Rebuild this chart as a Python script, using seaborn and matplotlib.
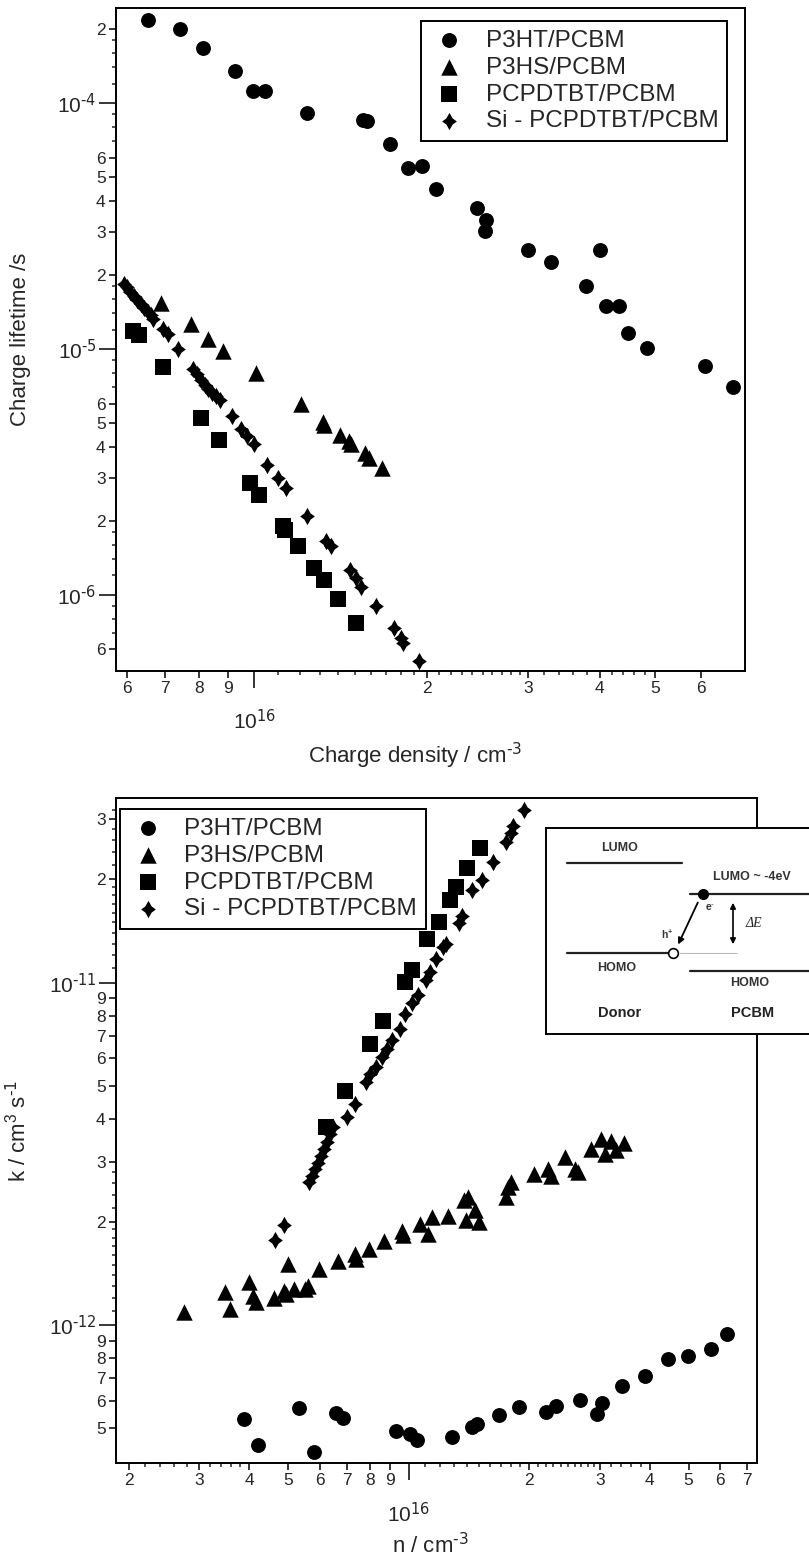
import numpy as np
import pandas as pd
import seaborn as sns
import matplotlib.pyplot as plt
from matplotlib.path import Path
from matplotlib.ticker import FixedLocator, FixedFormatter, NullLocator

sns.set_style('ticks')
plt.rcParams['font.family'] = ['Liberation Sans', 'DejaVu Sans']
plt.rcParams['mathtext.default'] = 'regular'
plt.rcParams['axes.edgecolor'] = 'black'
plt.rcParams['axes.linewidth'] = 1.4

labels = ['P3HT/PCBM', 'P3HS/PCBM', 'PCPDTBT/PCBM', 'Si - PCPDTBT/PCBM']

# ---- top panel: charge lifetime vs charge density (n in 1e16 cm^-3)
p3ht_top_n = [0.652, 0.742, 0.815, 0.926, 0.996, 1.044, 1.235, 1.55, 1.575, 1.727, 1.852, 1.963,
              2.072, 2.445, 2.537, 2.521, 3.006, 3.286, 3.999, 3.782, 4.10, 4.318, 4.48, 4.84, 6.11, 6.83]
p3ht_top_tau = [2.19e-4, 2.0e-4, 1.67e-4, 1.35e-4, 1.12e-4, 1.12e-4, 9.1e-5, 8.55e-5, 8.45e-5, 6.83e-5,
                5.43e-5, 5.57e-5, 4.49e-5, 3.76e-5, 3.34e-5, 3.02e-5, 2.52e-5, 2.26e-5, 2.54e-5, 1.81e-5,
                1.49e-5, 1.49e-5, 1.16e-5, 1.01e-5, 8.5e-6, 7.0e-6]

p3hs_top_n = [0.689, 0.775, 0.832, 0.882, 1.006, 1.205, 1.316, 1.325, 1.413, 1.463, 1.475, 1.56, 1.583, 1.667]
p3hs_top_tau = [1.54e-5, 1.26e-5, 1.10e-5, 9.84e-6, 7.98e-6, 5.96e-6, 5.04e-6, 4.9e-6, 4.46e-6, 4.23e-6,
                4.1e-6, 3.76e-6, 3.6e-6, 3.29e-6]

pcpd_top_n = [0.615, 0.63, 0.693, 0.808, 0.869, 0.984, 1.021, 1.12, 1.13, 1.192, 1.271, 1.322, 1.401, 1.503]
pcpd_top_tau = [1.18e-5, 1.14e-5, 8.42e-6, 5.23e-6, 4.25e-6, 2.86e-6, 2.54e-6, 1.9e-6, 1.83e-6, 1.575e-6,
                1.29e-6, 1.15e-6, 9.63e-7, 7.66e-7]

si_top_n = [0.592, 0.600, 0.608, 0.616, 0.625, 0.634, 0.643, 0.652, 0.660, 0.667, 0.694, 0.708, 0.737,
            0.783, 0.795, 0.808, 0.82, 0.832, 0.845, 0.858, 0.872, 0.915, 0.949, 0.97, 0.999, 1.053,
            1.102, 1.137, 1.237, 1.333, 1.361, 1.466, 1.503, 1.535, 1.633, 1.755, 1.803, 1.82, 1.934]
si_top_tau = [1.84e-5, 1.78e-5, 1.71e-5, 1.65e-5, 1.58e-5, 1.52e-5, 1.47e-5, 1.41e-5, 1.37e-5, 1.33e-5,
              1.21e-5, 1.155e-5, 1.0e-5, 8.3e-6, 7.9e-6, 7.5e-6, 7.15e-6, 6.9e-6, 6.6e-6, 6.45e-6, 6.2e-6,
              5.34e-6, 4.71e-6, 4.43e-6, 4.1e-6, 3.39e-6, 2.99e-6, 2.72e-6, 2.09e-6, 1.65e-6, 1.575e-6,
              1.257e-6, 1.17e-6, 1.08e-6, 9.02e-7, 7.31e-7, 6.66e-7, 6.36e-7, 5.38e-7]

# ---- bottom panel: recombination coefficient k vs n (n in 1e16 cm^-3)
p3ht_bot_n = [0.3875, 0.421, 0.5335, 0.581, 0.66, 0.684, 0.929, 1.009, 1.048, 1.286, 1.44, 1.483, 1.68,
              1.89, 2.199, 2.327, 2.675, 2.95, 3.048, 3.401, 3.887, 4.45, 4.985, 5.68, 6.24]
p3ht_bot_k = [5.32e-13, 4.47e-13, 5.71e-13, 4.25e-13, 5.54e-13, 5.34e-13, 4.89e-13, 4.79e-13, 4.61e-13,
              4.7e-13, 5.03e-13, 5.12e-13, 5.45e-13, 5.77e-13, 5.58e-13, 5.79e-13, 6.03e-13, 5.48e-13,
              5.9e-13, 6.63e-13, 7.1e-13, 7.93e-13, 8.11e-13, 8.52e-13, 9.39e-13]

p3hs_bot_n = [0.2756, 0.349, 0.3587, 0.399, 0.4087, 0.416, 0.46, 0.488, 0.495, 0.50, 0.518, 0.55, 0.561,
              0.597, 0.666, 0.735, 0.74, 0.796, 0.87, 0.965, 0.97, 1.07, 1.12, 1.146, 1.253, 1.377, 1.39,
              1.41, 1.461, 1.497, 1.746, 1.772, 1.798, 2.054, 2.233, 2.27, 2.455, 2.604, 2.65, 2.846,
              3.02, 3.2, 3.45, 3.1, 3.3]
p3hs_bot_k = [1.09e-12, 1.249e-12, 1.11e-12, 1.33e-12, 1.216e-12, 1.163e-12, 1.2e-12, 1.257e-12, 1.23e-12,
              1.505e-12, 1.27e-12, 1.27e-12, 1.3e-12, 1.455e-12, 1.54e-12, 1.61e-12, 1.56e-12, 1.665e-12,
              1.762e-12, 1.88e-12, 1.83e-12, 1.97e-12, 1.84e-12, 2.06e-12, 2.08e-12, 2.31e-12, 2.02e-12,
              2.36e-12, 2.16e-12, 2.0e-12, 2.36e-12, 2.52e-12, 2.61e-12, 2.76e-12, 2.855e-12, 2.73e-12,
              3.09e-12, 2.86e-12, 2.8e-12, 3.27e-12, 3.5e-12, 3.45e-12, 3.4e-12, 3.15e-12, 3.25e-12]

pcpd_bot_n = [0.622, 0.692, 0.803, 0.862, 0.979, 1.018, 1.112, 1.188, 1.268, 1.317, 1.398, 1.505]
pcpd_bot_k = [3.78e-12, 4.82e-12, 6.63e-12, 7.72e-12, 1.005e-11, 1.087e-11, 1.336e-11, 1.505e-11,
              1.742e-11, 1.905e-11, 2.16e-11, 2.47e-11]

si_bot_n = [0.464, 0.488, 0.563, 0.575, 0.585, 0.595, 0.605, 0.615, 0.625, 0.637, 0.648, 0.701, 0.735,
            0.784, 0.803, 0.828, 0.857, 0.885, 0.909, 0.951, 0.979, 1.02, 1.055, 1.103, 1.13, 1.17, 1.216,
            1.241, 1.337, 1.357, 1.44, 1.528, 1.621, 1.746, 1.8, 1.82, 1.936]
si_bot_k = [1.774e-12, 1.96e-12, 2.61e-12, 2.73e-12, 2.86e-12, 2.98e-12, 3.12e-12, 3.27e-12, 3.43e-12,
            3.6e-12, 3.78e-12, 4.04e-12, 4.43e-12, 5.12e-12, 5.4e-12, 5.66e-12, 6.06e-12, 6.4e-12, 6.78e-12,
            7.34e-12, 8.12e-12, 8.7e-12, 9.18e-12, 1.016e-11, 1.074e-11, 1.17e-11, 1.272e-11, 1.3e-11,
            1.488e-11, 1.56e-11, 1.864e-11, 1.99e-11, 2.25e-11, 2.58e-11, 2.73e-11, 2.86e-11, 3.19e-11]

# 4-point star marker for the Si polymer
ri = 0.36
star = Path([(0, 1), (ri, ri), (0.85, 0), (ri, -ri), (0, -1), (-ri, -ri), (-0.85, 0), (-ri, ri), (0, 1)],
            closed=True)
markers = {'P3HT/PCBM': 'o', 'P3HS/PCBM': '^', 'PCPDTBT/PCBM': 's', 'Si - PCPDTBT/PCBM': star}
sizes = {'P3HT/PCBM': 115, 'P3HS/PCBM': 140, 'PCPDTBT/PCBM': 120, 'Si - PCPDTBT/PCBM': 155}


def draw_panel(ax, series, ycol):
    for lab, (n, v) in zip(labels, series):
        d = pd.DataFrame({'n': np.array(n) * 1e16, ycol: v})
        sns.scatterplot(data=d, x='n', y=ycol, ax=ax, marker=markers[lab], s=sizes[lab],
                        color='black', edgecolor='black', linewidth=0, label=lab, zorder=3)


def dec(p):
    # decade label with a short hyphen in the exponent, like the original
    return r'$10^{\text{' + p + '}}$'


def log_ticks(ax, which, decades, dec_labels, digits, dig_labels, subs, dec_pad):
    axis = ax.xaxis if which == 'x' else ax.yaxis
    axis.set_major_locator(FixedLocator(decades))
    axis.set_major_formatter(FixedFormatter(dec_labels))
    axis.set_minor_locator(FixedLocator(digits))
    axis.set_minor_formatter(FixedFormatter(dig_labels))
    ax.tick_params(axis=which, which='major', direction='out', length=12, width=1.3,
                   pad=dec_pad, labelsize=15)
    ax.tick_params(axis=which, which='minor', direction='out', length=5, width=1.3,
                   pad=2.5, labelsize=12.5)
    if which == 'x':
        sec = ax.secondary_xaxis('bottom')
        sec.set_xticks(subs)
        sec.xaxis.set_minor_locator(NullLocator())
        sec.tick_params(length=3, width=1.1, direction='out', labelbottom=False)
    else:
        sec = ax.secondary_yaxis('left')
        sec.set_yticks(subs)
        sec.yaxis.set_minor_locator(NullLocator())
        sec.tick_params(length=3, width=1.1, direction='out', labelleft=False)
    for s in sec.spines.values():
        s.set_visible(False)
    ax.tick_params(top=False, right=False)


def style_legend(ax, loc, anchor):
    h, l = ax.get_legend_handles_labels()
    leg = ax.legend(h, l, loc=loc, bbox_to_anchor=anchor, fontsize=17.5, frameon=True,
                    fancybox=False, edgecolor='black', framealpha=1, labelspacing=0.2,
                    handletextpad=0.7, handlelength=1.6, borderpad=0.35, borderaxespad=0)
    leg.get_frame().set_linewidth(1.4)


fig = plt.figure(figsize=(8.09, 15.62), dpi=100)

# ---------------- top panel
ax1 = fig.add_axes([116 / 809, 1 - 671 / 1562, 629 / 809, 663 / 1562])
draw_panel(ax1, [(p3ht_top_n, p3ht_top_tau), (p3hs_top_n, p3hs_top_tau),
                 (pcpd_top_n, pcpd_top_tau), (si_top_n, si_top_tau)], 'tau')
ax1.set_xscale('log')
ax1.set_yscale('log')
ax1.set_xlim(5.74e15, 7.17e16)
ax1.set_ylim(4.9e-7, 2.44e-4)
log_ticks(ax1, 'x', [1e16], [dec('16')],
          [6e15, 7e15, 8e15, 9e15, 2e16, 3e16, 4e16, 5e16, 6e16],
          ['6', '7', '8', '9', '2', '3', '4', '5', '6'],
          [v * 1e16 for v in [1.1, 1.2, 1.3, 1.4, 1.5, 1.6, 1.7, 1.8, 1.9,
                              2.1, 2.2, 2.3, 2.4, 2.5, 2.6, 2.7, 2.8, 2.9,
                              3.2, 3.4, 3.6, 3.8, 4.2, 4.4, 4.6, 4.8]], 15)
log_ticks(ax1, 'y', [1e-6, 1e-5, 1e-4], [dec('-6'), dec('-5'), dec('-4')],
          [6e-7, 2e-6, 3e-6, 4e-6, 5e-6, 6e-6, 2e-5, 3e-5, 4e-5, 5e-5, 6e-5, 2e-4],
          ['6', '2', '3', '4', '5', '6', '2', '3', '4', '5', '6', '2'],
          [7e-7, 8e-7, 9e-7, 1.2e-6, 1.4e-6, 1.6e-6, 1.8e-6, 7e-6, 8e-6, 9e-6,
           1.2e-5, 1.4e-5, 1.6e-5, 1.8e-5, 7e-5, 8e-5, 9e-5, 1.2e-4, 1.4e-4, 1.6e-4, 1.8e-4], 2)
ax1.set_xlabel(r'Charge density / cm$^{\text{-3}}$', fontsize=16)
ax1.set_ylabel('Charge lifetime /s', fontsize=16)
ax1.xaxis.set_label_coords(0.475, -0.106)
ax1.yaxis.set_label_coords(-0.135, 0.5)
style_legend(ax1, 'upper right', (0.971, 0.98))

# ---------------- bottom panel
ax2 = fig.add_axes([116 / 809, 1 - 1463 / 1562, 641 / 809, 665 / 1562])
draw_panel(ax2, [(p3ht_bot_n, p3ht_bot_k), (p3hs_bot_n, p3hs_bot_k),
                 (pcpd_bot_n, pcpd_bot_k), (si_bot_n, si_bot_k)], 'k')
ax2.set_xscale('log')
ax2.set_yscale('log')
ax2.set_xlim(1.86e15, 7.41e16)
ax2.set_ylim(3.95e-13, 3.46e-11)
log_ticks(ax2, 'x', [1e16], [dec('16')],
          [2e15, 3e15, 4e15, 5e15, 6e15, 7e15, 8e15, 9e15, 2e16, 3e16, 4e16, 5e16, 6e16, 7e16],
          ['2', '3', '4', '5', '6', '7', '8', '9', '2', '3', '4', '5', '6', '7'],
          [2.2e15, 2.4e15, 2.6e15, 2.8e15, 3.2e15, 3.4e15, 3.6e15, 3.8e15]
          + [v * 1e16 for v in [1.1, 1.2, 1.3, 1.4, 1.5, 1.6, 1.7, 1.8, 1.9,
                                2.1, 2.2, 2.3, 2.4, 2.5, 2.6, 2.7, 2.8, 2.9,
                                3.2, 3.4, 3.6, 3.8]], 16)
log_ticks(ax2, 'y', [1e-12, 1e-11], [dec('-12'), dec('-11')],
          [5e-13, 6e-13, 7e-13, 8e-13, 9e-13, 2e-12, 3e-12, 4e-12, 5e-12, 6e-12, 7e-12, 8e-12, 9e-12,
           2e-11, 3e-11],
          ['5', '6', '7', '8', '9', '2', '3', '4', '5', '6', '7', '8', '9', '2', '3'],
          [v * 1e-12 for v in [1.1, 1.2, 1.3, 1.4, 1.5, 1.6, 1.7, 1.8, 1.9, 2.2, 2.4, 2.6, 2.8]]
          + [v * 1e-11 for v in [1.1, 1.2, 1.3, 1.4, 1.5, 1.6, 1.7, 1.8, 1.9, 2.2, 2.4, 2.6, 2.8, 3.2]], 2)
ax2.set_xlabel(r'n / cm$^{\text{-3}}$', fontsize=16)
ax2.set_ylabel(r'k / cm$^{3}$ s$^{\text{-1}}$', fontsize=16)
ax2.xaxis.set_label_coords(0.49, -0.106)
ax2.yaxis.set_label_coords(-0.133, 0.5)
style_legend(ax2, 'upper left', (0.006, 0.983))

# ---------------- energy-level inset (drawn in pixel-like coordinates)
ins = fig.add_axes([546 / 809, 1 - 1034 / 1562, 290 / 809, 206 / 1562], zorder=5)
ins.set_xlim(546, 836)
ins.set_ylim(1034, 828)
ins.set_xticks([])
ins.set_yticks([])
ins.set_facecolor('white')
for s in ins.spines.values():
    s.set_linewidth(1.4)
lc = '#222222'
ins.plot([567, 682], [863, 863], color=lc, lw=1.6)
ins.plot([690, 836], [894, 894], color=lc, lw=1.6)
ins.plot([567, 670], [953, 953], color=lc, lw=1.6)
ins.plot([680, 737], [953, 953], color='#bbbbbb', lw=0.8)
ins.plot([690, 836], [971, 971], color=lc, lw=1.6)
ins.plot([703], [894], marker='o', ms=7, color='black')
ins.plot([673], [953], marker='o', ms=7, mfc='white', mec='black', mew=1.2)
ins.annotate('', xy=(677, 947), xytext=(699, 900),
             arrowprops=dict(arrowstyle='-|>', color='black', lw=1.3, mutation_scale=9))
ins.annotate('', xy=(733, 947), xytext=(733, 900),
             arrowprops=dict(arrowstyle='<|-|>', color='black', lw=1.2, mutation_scale=8))
tk = dict(fontsize=9, fontweight='bold', color='#333333', ha='center', va='center')
ins.text(620, 848, 'LUMO', **tk)
ins.text(752, 877, 'LUMO ~ -4eV', **tk)
ins.text(617, 968, 'HOMO', **tk)
ins.text(750, 983, 'HOMO', **tk)
ins.text(710, 908, r'e$^{\text{-}}$', fontsize=7.5, fontweight='bold', color='#333333', ha='center', va='center')
ins.text(667, 934, 'h$^{+}$', fontsize=7.5, fontweight='bold', color='#333333', ha='center', va='center')
ins.text(754, 924, 'ΔE', fontsize=10, style='italic', family='Liberation Serif', ha='center', va='center')
ins.text(620, 1013, 'Donor', fontsize=10.5, fontweight='bold', color='#222222', ha='center', va='center')
ins.text(753, 1013, 'PCBM', fontsize=10.5, fontweight='bold', color='#222222', ha='center', va='center')

fig.savefig('out.png', dpi=100, facecolor='white')
